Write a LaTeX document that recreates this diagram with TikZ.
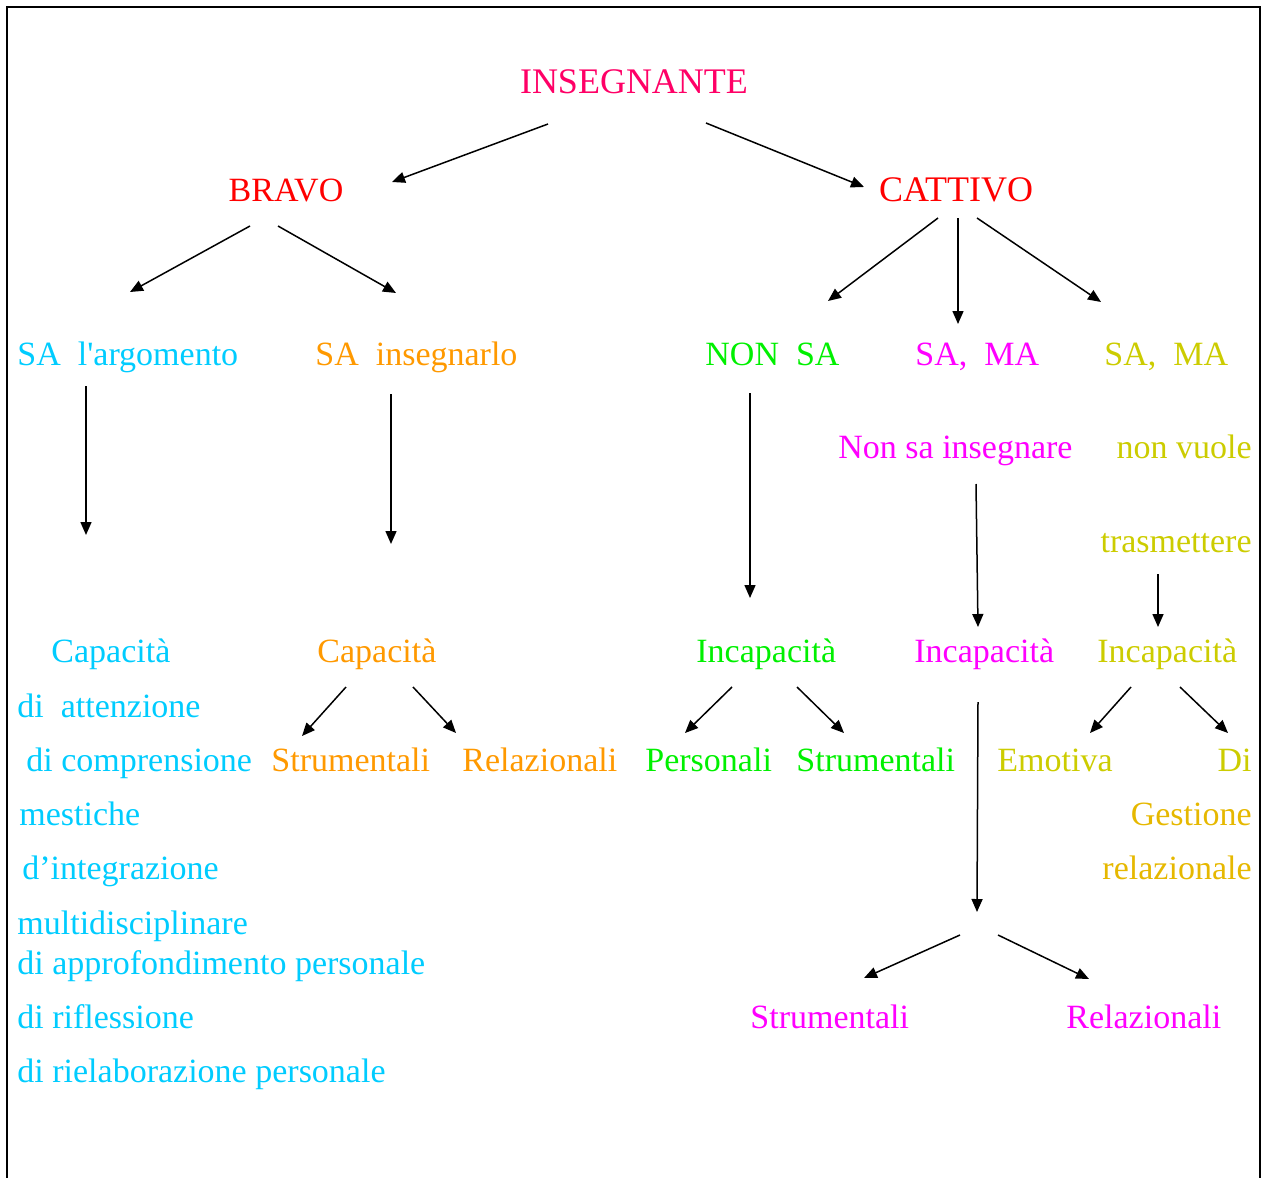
\documentclass[tikz,border=0pt]{standalone}
\usepackage{fontspec}
\setmainfont{Liberation Serif}
\usetikzlibrary{arrows.meta}
\definecolor{insred}{HTML}{FF0066}
\definecolor{redc}{HTML}{FF0000}
\definecolor{cyanc}{HTML}{00CCFF}
\definecolor{orangec}{HTML}{FF9900}
\definecolor{greenc}{HTML}{00F000}
\definecolor{magc}{HTML}{FF00FF}
\definecolor{olivec}{HTML}{CCCC00}
\definecolor{goldc}{HTML}{E6B800}
\tikzset{
  txt/.style={inner sep=0pt, font=\fontsize{17}{20}\selectfont},
  big/.style={font=\fontsize{18}{21}\selectfont},
  lt/.style={txt, anchor=base west},
  ct/.style={txt, anchor=base},
  rt/.style={txt, anchor=base east},
  arr/.style={-{Triangle[length=6.5pt,width=5.5pt]}, line width=0.75pt},
  frame/.style={line width=0.7pt}
}
\begin{document}
\begin{tikzpicture}[x=0.5pt,y=-0.5pt]
\useasboundingbox (0,0) rectangle (1264,1178);
\draw[frame] (7,1178) -- (7,7) -- (1260,7) -- (1260,1178);

% level 0
\node[ct, big, insred] (ins) at (634,93) {INSEGNANTE};
% level 1
\node[ct, redc] (bravo) at (286,201) {BRAVO};
\node[ct, big, redc] (cattivo) at (956,201) {CATTIVO};
% level 2
\node[lt, cyanc] (saarg) at (17,365) {SA~~l\textquotesingle argomento};
\node[lt, orangec] (sains) at (315,365) {SA~~insegnarlo};
\node[lt, greenc] (nonsa) at (705,365) {NON~~SA};
\node[lt, magc] (samam) at (915,365) {SA,~~MA};
\node[lt, olivec] (samao) at (1104,365) {SA,~~MA};
\node[lt, magc] (nonsains) at (838,458) {Non sa insegnare};
\node[rt, olivec] (nonvuole) at (1252,458) {non vuole};
\node[rt, olivec] (trasm) at (1252,552) {trasmettere};
% level 3
\node[lt, cyanc] (capc) at (51,662) {Capacità};
\node[lt, orangec] (capo) at (317,662) {Capacità};
\node[lt, greenc] (incg) at (696,662) {Incapacità};
\node[lt, magc] (incm) at (914,662) {Incapacità};
\node[lt, olivec] (inco) at (1097,662) {Incapacità};
% cyan list
\node[lt, cyanc] (att) at (17,717) {di~~attenzione};
\node[lt, cyanc] (compr) at (26,771) {di comprensione};
\node[lt, cyanc] (mest) at (19,825) {mestiche};
\node[lt, cyanc] (integr) at (22,879) {d’integrazione};
\node[lt, cyanc] (multi) at (17,934) {multidisciplinare};
\node[lt, cyanc] (approf) at (17,974) {di approfondimento personale};
\node[lt, cyanc] (rifl) at (17,1028) {di riflessione};
\node[lt, cyanc] (rielab) at (17,1082) {di rielaborazione personale};
% level 4
\node[lt, orangec] (strumo) at (271,771) {Strumentali};
\node[lt, orangec] (relo) at (462,771) {Relazionali};
\node[lt, greenc] (pers) at (645,771) {Personali};
\node[lt, greenc] (strumg) at (796,771) {Strumentali};
\node[lt, olivec] (emot) at (997,771) {Emotiva};
\node[rt, olivec] (di) at (1252,771) {Di};
\node[rt, goldc] (gest) at (1252,825) {Gestione};
\node[rt, goldc] (relaz) at (1252,879) {relazionale};
\node[lt, magc] (strumm) at (750,1028) {Strumentali};
\node[lt, magc] (relm) at (1066,1028) {Relazionali};

% arrow end points
\coordinate (a1s) at (548,124); \coordinate (a1e) at (392,182);
\coordinate (a2s) at (706,123); \coordinate (a2e) at (864,187);
\coordinate (a3s) at (250,226); \coordinate (a3e) at (130,292);
\coordinate (a4s) at (278,226); \coordinate (a4e) at (396,293);
\coordinate (a5s) at (938,218); \coordinate (a5e) at (828,301);
\coordinate (a6s) at (958,218); \coordinate (a6e) at (958,324);
\coordinate (a7s) at (977,218); \coordinate (a7e) at (1101,302);
\coordinate (a8s) at (86,386); \coordinate (a8e) at (86,535);
\coordinate (a9s) at (391,394); \coordinate (a9e) at (391,544);
\coordinate (a10s) at (750,393); \coordinate (a10e) at (750,598);
\coordinate (a11s) at (976,484); \coordinate (a11e) at (978,627);
\coordinate (a12s) at (1158,574); \coordinate (a12e) at (1158,627);
\coordinate (a13s) at (346,687); \coordinate (a13e) at (302,736);
\coordinate (a14s) at (413,687); \coordinate (a14e) at (456,733);
\coordinate (a15s) at (732,687); \coordinate (a15e) at (685,733);
\coordinate (a16s) at (797,687); \coordinate (a16e) at (844,733);
\coordinate (a17s) at (1131,687); \coordinate (a17e) at (1090,733);
\coordinate (a18s) at (1180,687); \coordinate (a18e) at (1228,733);
\coordinate (a19s) at (978,702); \coordinate (a19e) at (977,912);
\coordinate (a20s) at (960,935); \coordinate (a20e) at (864,978);
\coordinate (a21s) at (998,935); \coordinate (a21e) at (1089,979);

\foreach \i in {1,...,21} {\draw[arr] (a\i s) -- (a\i e);}
\end{tikzpicture}
\end{document}
